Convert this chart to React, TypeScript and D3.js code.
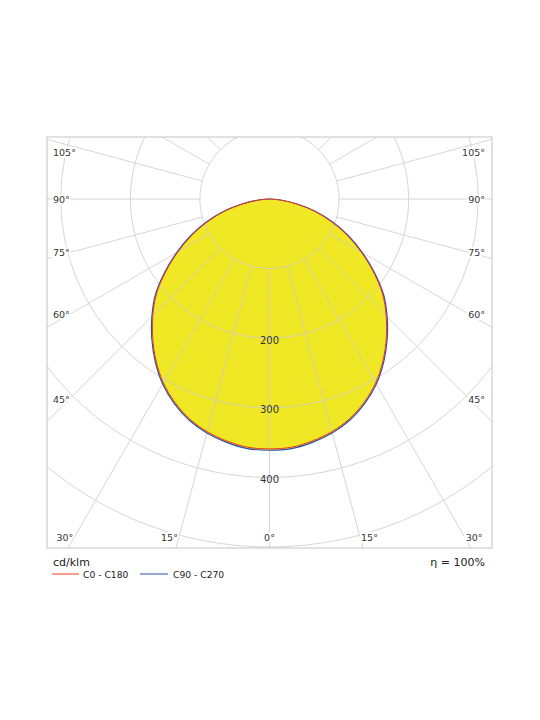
import React from "react";
import * as d3 from "d3";

// Polar angles (degrees from nadir) and luminous intensity (cd/klm)
const angles = [0, 5, 10, 15, 20, 25, 30, 35, 40, 45, 50, 55, 60, 65, 70, 75, 80, 85, 90];
const c0c180 = [359, 358, 353, 346, 336, 322, 305, 284, 261, 237, 212, 182, 152, 123, 94, 66, 37, 14, 0];
const c90c270 = [361, 360, 355, 348, 338, 324, 307, 286, 263, 239, 214, 184, 154, 125, 96, 68, 39, 16, 2];

const ringValues = [100, 200, 300, 400, 500, 600];
const ringLabels = [200, 300, 400];
const spokeAngles = [0, 15, 30, 45, 60, 75, 90, 105, 120, 135, 150, 165, 180];
const sideLabelAngles = [45, 60, 75, 90, 105];
const bottomLabelAngles = [0, 15, 30];

const W = 540;
const H = 720;
const frame = { x0: 47, y0: 137, x1: 492, y1: 548 };
const cx = (frame.x0 + frame.x1) / 2;
const cy = 199;
const rScale = d3.scaleLinear().domain([0, 100]).range([0, 69.6]);
const FONT = "'DejaVu Sans', Verdana, sans-serif";

function curvePath(values: number[]): string {
  const pts: [number, number][] = [];
  for (let i = angles.length - 1; i >= 0; i--) {
    pts.push([Math.PI - (angles[i] * Math.PI) / 180, rScale(values[i])]);
  }
  for (let i = 1; i < angles.length; i++) {
    pts.push([Math.PI + (angles[i] * Math.PI) / 180, rScale(values[i])]);
  }
  const line = d3
    .lineRadial<[number, number]>()
    .angle((d) => d[0])
    .radius((d) => d[1])
    .curve(d3.curveCatmullRom.alpha(0.5));
  return (line(pts) || "") + "Z";
}

export default function App() {
  const redPath = curvePath(c0c180);
  const bluePath = curvePath(c90c270);
  const rInner = rScale(100);
  const rOuter = 800;

  const labels: { x: number; y: number; anchor: string; text: string }[] = [];
  sideLabelAngles.forEach((a) => {
    const t = (a * Math.PI) / 180;
    let y = cy + 200 / Math.tan(t);
    y = Math.max(y, frame.y0 + 15);
    labels.push({ x: frame.x0 + 6, y, anchor: "start", text: `${a}°` });
    labels.push({ x: frame.x1 - 7, y, anchor: "end", text: `${a}°` });
  });
  const labelY = frame.y1 - 11;
  bottomLabelAngles.forEach((a) => {
    const t = (a * Math.PI) / 180;
    const dx = (labelY - cy) * Math.tan(t);
    if (a === 0) {
      labels.push({ x: cx, y: labelY, anchor: "middle", text: `${a}°` });
    } else {
      labels.push({ x: cx - dx - 1, y: labelY, anchor: "end", text: `${a}°` });
      labels.push({ x: cx + dx + 1, y: labelY, anchor: "start", text: `${a}°` });
    }
  });

  return (
    <svg width={W} height={H} style={{ position: "absolute", left: 0, top: 0 }}>
      <defs>
        <clipPath id="frameClip">
          <rect x={frame.x0} y={frame.y0} width={frame.x1 - frame.x0} height={frame.y1 - frame.y0} />
        </clipPath>
      </defs>
      <rect x={0} y={0} width={W} height={H} fill="#fff" />
      <g clipPath="url(#frameClip)">
        <path d={bluePath} transform={`translate(${cx},${cy})`} fill="#F0E824" stroke="none" />
        <g stroke="#cdcdcd" strokeWidth={1} fill="none" opacity={0.8}>
          {ringValues.map((v) => (
            <circle key={v} cx={cx} cy={cy} r={rScale(v)} />
          ))}
          {spokeAngles.map((a) => {
            const t = (a * Math.PI) / 180;
            const s = Math.sin(t);
            const c = Math.cos(t);
            return (
              <g key={a}>
                <line x1={cx + rInner * s} y1={cy + rInner * c} x2={cx + rOuter * s} y2={cy + rOuter * c} />
                <line x1={cx - rInner * s} y1={cy + rInner * c} x2={cx - rOuter * s} y2={cy + rOuter * c} />
              </g>
            );
          })}
        </g>
        <path d={bluePath} transform={`translate(${cx},${cy})`} fill="none" stroke="#2a4fb0" strokeWidth={1.2} />
        <path d={redPath} transform={`translate(${cx},${cy})`} fill="none" stroke="#ec3a1e" strokeWidth={1} />
        {ringLabels.map((v) => (
          <text
            key={v}
            x={cx}
            y={cy + rScale(v) + 2}
            textAnchor="middle"
            dominantBaseline="central"
            fontFamily={FONT}
            fontSize={10}
            fill="#333"
          >
            {v}
          </text>
        ))}
        {labels.map((l, i) => (
          <text
            key={i}
            x={l.x}
            y={l.y}
            textAnchor={l.anchor as any}
            dominantBaseline="central"
            fontFamily={FONT}
            fontSize={9.5}
            fill="#333"
            stroke="#fff"
            strokeWidth={4}
            paintOrder="stroke"
          >
            {l.text}
          </text>
        ))}
      </g>
      <rect
        x={frame.x0}
        y={frame.y0}
        width={frame.x1 - frame.x0}
        height={frame.y1 - frame.y0}
        fill="none"
        stroke="#c4c4c4"
        strokeWidth={1}
      />
      <text x={53} y={562} dominantBaseline="central" fontFamily={FONT} fontSize={11} fill="#222">
        cd/klm
      </text>
      <text x={485} y={562} textAnchor="end" dominantBaseline="central" fontFamily={FONT} fontSize={11} fill="#222">
        η = 100%
      </text>
      <line x1={52} x2={79} y1={574} y2={574} stroke="#ec3a1e" strokeWidth={1} />
      <text x={83} y={574.5} dominantBaseline="central" fontFamily={FONT} fontSize={9.2} fill="#222">
        C0 - C180
      </text>
      <line x1={140} x2={168} y1={574} y2={574} stroke="#2a4fb0" strokeWidth={1} />
      <text x={173} y={574.5} dominantBaseline="central" fontFamily={FONT} fontSize={9.2} fill="#222">
        C90 - C270
      </text>
    </svg>
  );
}
